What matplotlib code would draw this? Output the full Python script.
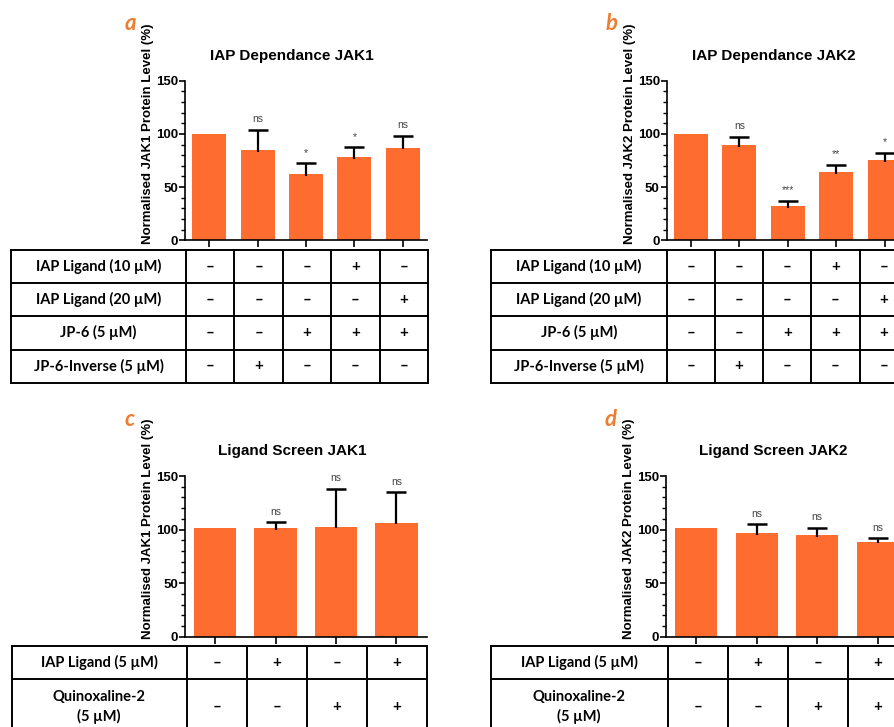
import matplotlib.pyplot as plt
import numpy as np
from matplotlib.ticker import MultipleLocator

plt.rcParams['font.family'] = ['Liberation Sans', 'DejaVu Sans']

# values (normalised protein level, %)
a_vals = [100, 84.5, 62, 78, 87]
a_err = [0, 19.5, 10.3, 9.3, 11.2]
a_sig = ['', 'ns', '*', '*', 'ns']

b_vals = [100, 89.5, 32, 64, 75.4]
b_err = [0, 7.8, 5, 7, 6.6]
b_sig = ['', 'ns', '***', '**', '*']

c_vals = [101, 101, 102.7, 106.4]
c_err = [0, 6, 35.2, 28.4]
c_sig = ['', 'ns', 'ns', 'ns']

d_vals = [101, 96.5, 94.7, 88.7]
d_err = [0, 8.5, 6.8, 3.2]
d_sig = ['', 'ns', 'ns', 'ns']

iap_rows = ['IAP Ligand (10 µM)', 'IAP Ligand (20 µM)', 'JP-6 (5 µM)', 'JP-6-Inverse (5 µM)']
iap_signs = [['–', '–', '–', '+', '–'],
             ['–', '–', '–', '–', '+'],
             ['–', '–', '+', '+', '+'],
             ['–', '+', '–', '–', '–']]

screen_rows = ['IAP Ligand (5 µM)', 'Quinoxaline-2\n(5 µM)']
screen_signs = [['–', '+', '–', '+'],
                ['–', '–', '+', '+']]

BAR = '#FF6C30'
LETTER = '#ED7D31'
W, H = 895, 727
TFONT = ['Lato', 'DejaVu Sans']

fig = plt.figure(figsize=(W / 100, H / 100), dpi=100)


def box(x, y, w, h):
    # pixel box (from top-left) -> figure fraction
    return [x / W, 1 - (y + h) / H, w / W, h / H]


def bar_panel(rect, vals, err, sig, title, ylabel, letter):
    ax = fig.add_axes(box(*rect))
    x = np.arange(len(vals))
    vals = np.array(vals)
    err = np.array(err)
    ax.bar(x, vals, width=0.7, color=BAR, zorder=2)
    m = err > 0
    # upper error only: stem + cap
    ax.vlines(x[m], vals[m] - 1.5, vals[m] + err[m], color='black', lw=1.6, zorder=3)
    ax.plot(x[m], vals[m] + err[m], ls='none', marker='_', ms=15, mew=1.8,
            color='black', zorder=3)
    for xi, v, e, s in zip(x, vals, err, sig):
        if s:
            ax.annotate(s, (xi, v + e), xytext=(0, 4), textcoords='offset points',
                        ha='center', va='bottom', fontsize=7.5, color='#444444')
    ax.set_xlim(-0.5, len(vals) - 0.5)
    ax.set_ylim(0, 150)
    ax.set_yticks([0, 50, 100, 150])
    ax.yaxis.set_minor_locator(MultipleLocator(10))
    ax.set_xticks(x)
    ax.set_xticklabels([])
    for s in ['top', 'right']:
        ax.spines[s].set_visible(False)
    for s in ['left', 'bottom']:
        ax.spines[s].set_linewidth(1.2)
    ax.tick_params(axis='y', which='major', length=4, width=1.2, pad=1, labelsize=9.5)
    ax.tick_params(axis='y', which='minor', length=3, width=1.0)
    ax.tick_params(axis='x', which='major', length=5, width=1.2)
    for lab in ax.get_yticklabels():
        lab.set_fontweight('bold')
    ax.text(0.5 - 14 / rect[2], 1 + 25 / rect[3], title, transform=ax.transAxes,
            ha='center', va='center', fontsize=11, fontweight='bold')
    ax.text(-36.5 / rect[2], 0.67, ylabel, transform=ax.transAxes, rotation=90,
            ha='center', va='center', fontsize=9.5, fontweight='bold')
    fig.text((rect[0] - 55) / W, 1 - (rect[1] - 57) / H, letter, color=LETTER,
             fontsize=16, fontweight='bold', style='italic', family=TFONT,
             ha='center', va='center')
    return ax


def table_panel(rect, lab_px, rows, signs, heights):
    ax = fig.add_axes(box(*rect))
    n = len(signs[0])
    lab_u = lab_px / ((rect[2] - lab_px) / n)
    x0 = -0.5 - lab_u
    ax.set_xlim(x0, n - 0.5)
    ax.set_ylim(sum(heights), 0)
    ax.axis('off')
    edges = np.concatenate([[0], np.cumsum(heights)])
    for yy in edges:
        ax.plot([x0, n - 0.5], [yy, yy], color='black', lw=1.4, clip_on=False,
                solid_capstyle='projecting')
    for xx in [x0] + list(np.arange(n + 1) - 0.5):
        ax.plot([xx, xx], [0, edges[-1]], color='black', lw=1.4, clip_on=False,
                solid_capstyle='projecting')
    for i, (lab, row) in enumerate(zip(rows, signs)):
        yc = (edges[i] + edges[i + 1]) / 2
        ax.text(x0 + lab_u / 2, yc, lab, ha='center', va='center', fontsize=10.5,
                fontweight='bold', family=TFONT, linespacing=1.45)
        for j, s in enumerate(row):
            ax.text(j, yc, s, ha='center', va='center', fontsize=11,
                    fontweight='bold', family=TFONT)
    return ax


bar_panel((185, 80.7, 242, 159.6), a_vals, a_err, a_sig, 'IAP Dependance JAK1',
          'Normalised JAK1 Protein Level (%)', 'a')
bar_panel((666.7, 80.7, 242, 159.6), b_vals, b_err, b_sig, 'IAP Dependance JAK2',
          'Normalised JAK2 Protein Level (%)', 'b')
bar_panel((185, 476, 241.7, 160.7), c_vals, c_err, c_sig, 'Ligand Screen JAK1',
          'Normalised JAK1 Protein Level (%)', 'c')
bar_panel((666, 476, 242, 160.7), d_vals, d_err, d_sig, 'Ligand Screen JAK2',
          'Normalised JAK2 Protein Level (%)', 'd')

table_panel((11, 250, 417, 132.7), 175, iap_rows, iap_signs, [33.2] * 4)
table_panel((490.7, 250, 417, 132.7), 176, iap_rows, iap_signs, [33.2] * 4)
table_panel((11.7, 645.7, 415, 88.6), 175, screen_rows, screen_signs, [33.6, 55])
table_panel((490.7, 645.7, 417, 88.6), 177, screen_rows, screen_signs, [33.6, 55])

fig.savefig('out.png', dpi=100)
